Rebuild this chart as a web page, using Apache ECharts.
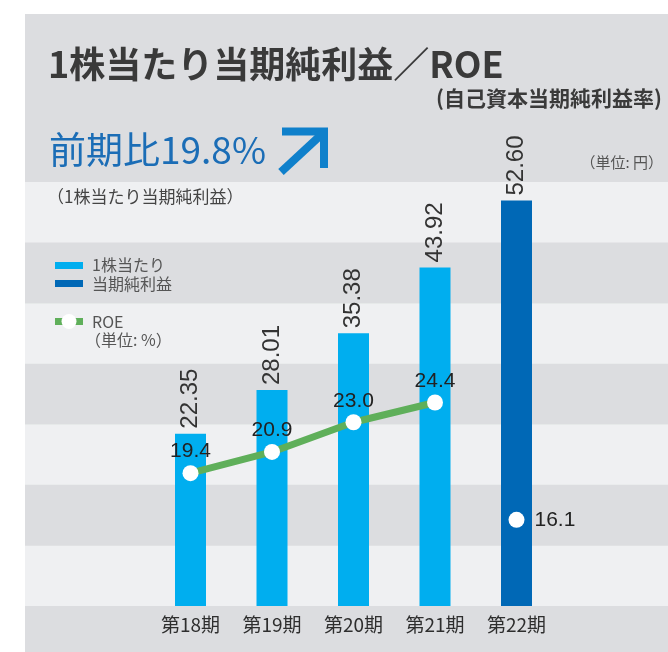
<!DOCTYPE html>
<html>
<head>
<meta charset="utf-8">
<script src="https://cdn.jsdelivr.net/npm/echarts@6/dist/echarts.min.js"></script>
<style>
html, body { margin: 0; padding: 0; background: #fff; }
#chart { width: 668px; height: 652px; }
</style>
</head>
<body>
<div id="chart"></div>
<script>
// dados
const periods = ['第18期', '第19期', '第20期', '第21期', '第22期'];
const eps = [22.35, 28.01, 35.38, 43.92, 52.60];
const roe = [19.4, 20.9, 23.0, 24.4, 16.1];

const jpFont = '"Noto Sans CJK JP", "Noto Sans", sans-serif';
const numFont = '"Liberation Sans Narrow", "Liberation Sans", sans-serif';
const colorLight = '#00aeef';
const colorDark = '#0068b6';
const colorGreen = '#5faf5a';
const colorPanel = '#dcdde0';
const colorBand = '#eff0f2';

const last = eps.length - 1;
const roeLine = roe.map((v, i) => i < last ? v : '-');
const roeLatest = roe.map((v, i) => i === last ? v : '-');

const chart = echarts.init(document.getElementById('chart'));

const roeLabel = {
    show: true, color: '#222', fontSize: 21,
    fontFamily: '"Liberation Sans", sans-serif',
    formatter: p => p.value.toFixed(1)
};

chart.setOption({
    backgroundColor: colorPanel,
    animation: false,
    grid: [
        { left: 25, right: 0, top: 182, height: 424 },          // faixas de fundo
        { left: 149.75, width: 407.5, top: 182, height: 424 }   // gráfico
    ],
    xAxis: [
        { gridIndex: 0, type: 'value', show: false },
        {
            gridIndex: 1, type: 'category', data: periods,
            axisLine: { show: false }, axisTick: { show: false },
            axisLabel: { color: '#2e2e2e', fontSize: 19, fontFamily: jpFont, margin: 9 }
        }
    ],
    yAxis: [
        {
            gridIndex: 0, type: 'value', min: 0, max: 7, interval: 1,
            axisLine: { show: false }, axisTick: { show: false }, axisLabel: { show: false },
            splitLine: { show: false },
            splitArea: { show: true, areaStyle: { color: [colorBand, colorPanel] } }
        },
        { gridIndex: 1, type: 'value', min: 0, max: 55, show: false },
        { gridIndex: 1, type: 'value', min: 10, max: 40, show: false }
    ],
    series: [
        {
            name: '1株当たり当期純利益',
            type: 'bar',
            xAxisIndex: 1, yAxisIndex: 1,
            barWidth: 31,
            data: eps.map((v, i) => ({ value: v, itemStyle: { color: i === last ? colorDark : colorLight } })),
            label: {
                show: true, position: 'top', rotate: 90, align: 'left', verticalAlign: 'middle',
                distance: 5, color: '#333', fontSize: 24, fontFamily: numFont,
                formatter: p => p.value.toFixed(2)
            }
        },
        {
            name: 'ROE',
            type: 'line',
            xAxisIndex: 1, yAxisIndex: 2,
            data: roeLine,
            symbol: 'circle', symbolSize: 16,
            lineStyle: { color: colorGreen, width: 7 },
            itemStyle: { color: '#fff', opacity: 1 },
            label: Object.assign({ position: 'top', distance: 3 }, roeLabel),
            z: 5
        },
        {
            name: 'ROE最新',
            type: 'scatter',
            xAxisIndex: 1, yAxisIndex: 2,
            data: roeLatest,
            symbol: 'circle', symbolSize: 16,
            itemStyle: { color: '#fff', opacity: 1 },
            label: Object.assign({ position: 'right', distance: 10 }, roeLabel),
            z: 5
        }
    ],
    graphic: [
        // margens brancas
        { type: 'rect', shape: { x: 0, y: 0, width: 668, height: 14 }, style: { fill: '#fff' }, z: 100 },
        { type: 'rect', shape: { x: 0, y: 0, width: 25, height: 652 }, style: { fill: '#fff' }, z: 100 },
        // títulos
        { type: 'text', x: 48, y: 64, style: { text: '1株当たり当期純利益／ROE', font: 'bold 36px ' + jpFont, fill: '#3a3a3a', verticalAlign: 'middle' }, z: 10 },
        { type: 'text', x: 662, y: 98, style: { text: '(自己資本当期純利益率)', font: 'bold 21px ' + jpFont, fill: '#3a3a3a', align: 'right', verticalAlign: 'middle' }, z: 10 },
        { type: 'text', x: 49, y: 150, style: { text: '前期比19.8%', font: '37px ' + jpFont, fill: '#1b6db6', verticalAlign: 'middle' }, z: 10 },
        // seta
        { type: 'polyline', shape: { points: [[282, 131.5], [324, 131.5], [324, 168]] }, style: { stroke: '#0f80cb', lineWidth: 8, fill: null, lineJoin: 'miter' }, z: 10 },
        { type: 'line', shape: { x1: 281, y1: 172, x2: 322, y2: 134 }, style: { stroke: '#0f80cb', lineWidth: 8 }, z: 10 },
        { type: 'text', x: 47, y: 197, style: { text: '（1株当たり当期純利益）', font: '17px ' + jpFont, fill: '#444', verticalAlign: 'middle' }, z: 10 },
        { type: 'text', x: 663, y: 162, style: { text: '（単位: 円）', font: '15px ' + jpFont, fill: '#555', align: 'right', verticalAlign: 'middle' }, z: 10 },
        // legenda
        { type: 'rect', shape: { x: 55, y: 262, width: 28, height: 7 }, style: { fill: colorLight }, z: 10 },
        { type: 'rect', shape: { x: 55, y: 280, width: 28, height: 7 }, style: { fill: colorDark }, z: 10 },
        { type: 'text', x: 92, y: 265, style: { text: '1株当たり', font: '16px ' + jpFont, fill: '#555', verticalAlign: 'middle' }, z: 10 },
        { type: 'text', x: 92, y: 284, style: { text: '当期純利益', font: '16px ' + jpFont, fill: '#555', verticalAlign: 'middle' }, z: 10 },
        { type: 'rect', shape: { x: 55, y: 318, width: 28, height: 7 }, style: { fill: colorGreen }, z: 10 },
        { type: 'circle', shape: { cx: 69, cy: 321.5, r: 7.5 }, style: { fill: '#fff' }, z: 11 },
        { type: 'text', x: 92, y: 322, style: { text: 'ROE', font: '16px ' + jpFont, fill: '#555', verticalAlign: 'middle' }, z: 10 },
        { type: 'text', x: 85, y: 340, style: { text: '（単位: %）', font: '16px ' + jpFont, fill: '#555', verticalAlign: 'middle' }, z: 10 }
    ]
});
</script>
</body>
</html>
